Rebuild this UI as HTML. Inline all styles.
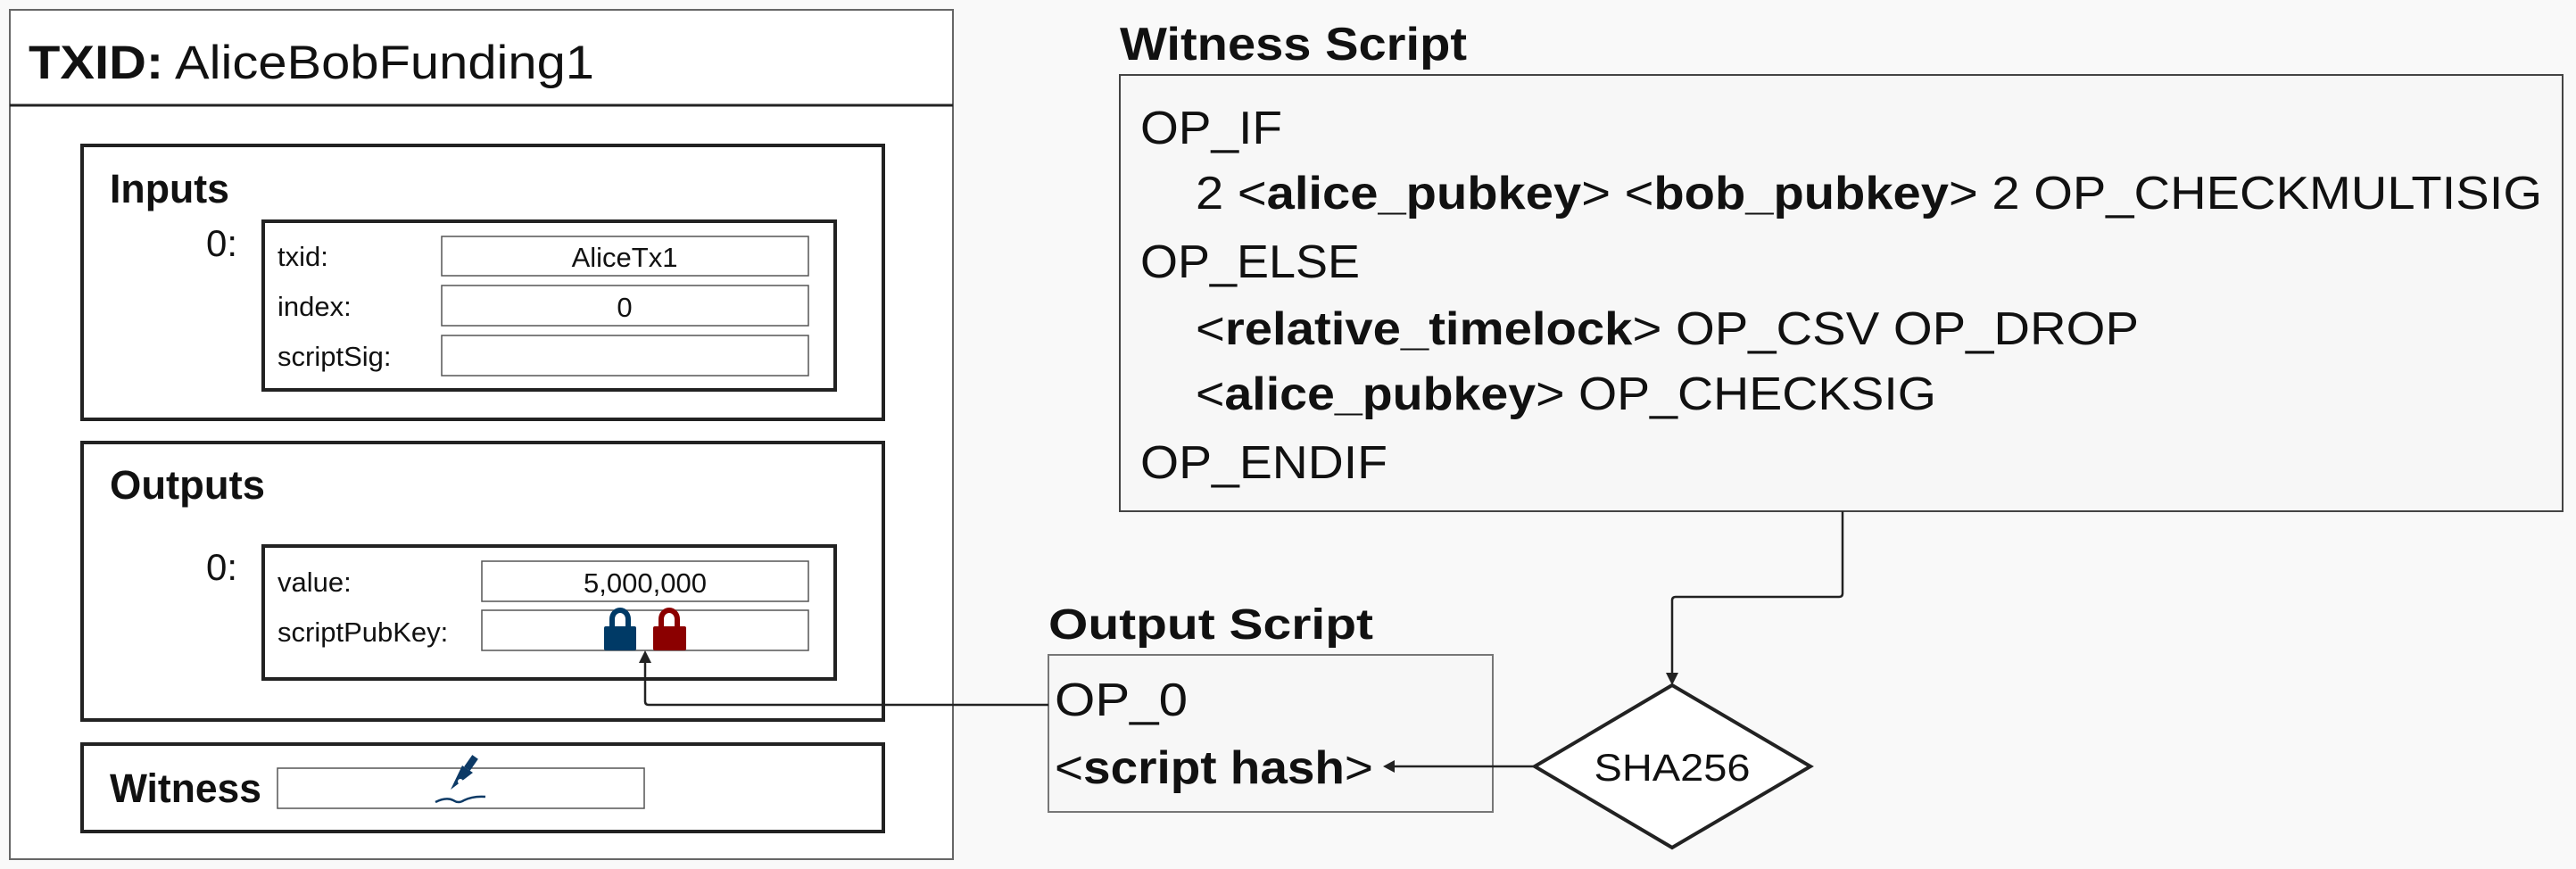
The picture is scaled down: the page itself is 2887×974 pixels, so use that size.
<!DOCTYPE html>
<html><head><meta charset="utf-8">
<style>
html,body{margin:0;padding:0;background:#f9f9f9;}
svg{display:block;}
text{font-family:"Liberation Sans",sans-serif;fill:#111;}
.b{font-weight:bold;}
</style></head>
<body>
<svg width="2887" height="974" viewBox="0 0 2887 974" xmlns="http://www.w3.org/2000/svg">
<rect x="0" y="0" width="2887" height="974" fill="#f9f9f9"/>
<!-- TXID box -->
<rect x="11" y="11" width="1057" height="952" fill="#fff" stroke="#666" stroke-width="2"/>
<line x1="11" y1="118" x2="1068" y2="118" stroke="#222" stroke-width="3"/>
<text x="32" y="88" font-size="53" textLength="634" lengthAdjust="spacingAndGlyphs"><tspan class="b">TXID:</tspan> AliceBobFunding1</text>

<!-- Inputs -->
<rect x="92" y="163" width="898" height="307" fill="#fff" stroke="#222" stroke-width="4"/>
<text x="123" y="227" font-size="45" class="b" textLength="134" lengthAdjust="spacingAndGlyphs">Inputs</text>
<text x="231" y="287" font-size="42">0:</text>
<rect x="295" y="248" width="641" height="189" fill="#fff" stroke="#222" stroke-width="4"/>
<text x="311" y="298" font-size="31">txid:</text>
<text x="311" y="354" font-size="31">index:</text>
<text x="311" y="410" font-size="31">scriptSig:</text>
<rect x="495" y="265" width="411" height="44" fill="#fff" stroke="#555" stroke-width="1.5"/>
<rect x="495" y="320" width="411" height="45" fill="#fff" stroke="#555" stroke-width="1.5"/>
<rect x="495" y="376" width="411" height="45" fill="#fff" stroke="#555" stroke-width="1.5"/>
<text x="700" y="299" font-size="31" text-anchor="middle">AliceTx1</text>
<text x="700" y="355" font-size="31" text-anchor="middle">0</text>

<!-- Outputs -->
<rect x="92" y="496" width="898" height="311" fill="#fff" stroke="#222" stroke-width="4"/>
<text x="123" y="559" font-size="45" class="b" textLength="174" lengthAdjust="spacingAndGlyphs">Outputs</text>
<text x="231" y="650" font-size="42">0:</text>
<rect x="295" y="612" width="641" height="149" fill="#fff" stroke="#222" stroke-width="4"/>
<text x="311" y="663" font-size="31">value:</text>
<text x="311" y="719" font-size="31">scriptPubKey:</text>
<rect x="540" y="629" width="366" height="45" fill="#fff" stroke="#555" stroke-width="1.5"/>
<rect x="540" y="684" width="366" height="45" fill="#fff" stroke="#555" stroke-width="1.5"/>
<text x="723" y="664" font-size="31" text-anchor="middle">5,000,000</text>
<!-- locks -->
<path d="M686 704 V694 a9 10 0 0 1 18 0 V704" fill="none" stroke="#003a66" stroke-width="6"/>
<rect x="677" y="702" width="36" height="27" rx="2" fill="#003a66"/>
<path d="M741 704 V694 a9 10 0 0 1 18 0 V704" fill="none" stroke="#8b0000" stroke-width="6"/>
<rect x="732" y="702" width="37" height="27" rx="2" fill="#8b0000"/>

<!-- Witness -->
<rect x="92" y="834" width="898" height="98" fill="#fff" stroke="#222" stroke-width="4"/>
<text x="123" y="899" font-size="45" class="b" textLength="170" lengthAdjust="spacingAndGlyphs">Witness</text>
<rect x="311" y="861" width="411" height="45" fill="#fff" stroke="#555" stroke-width="1.5"/>
<!-- pen icon -->
<g fill="#0d3a66">
<path d="M505 885 L518 858 L530 866 Z"/>
<rect x="524" y="847" width="8" height="16" transform="rotate(35 528 855)"/>
<path d="M488 899 q12 -6 20 -2 q6 4 12 0 q10 -5 24 -4" fill="none" stroke="#0d3a66" stroke-width="2.5"/>
</g>
<circle cx="516" cy="876" r="3" fill="#fff"/>

<!-- Witness Script -->
<text x="1255" y="67" font-size="52" class="b" textLength="389" lengthAdjust="spacingAndGlyphs">Witness Script</text>
<rect x="1255" y="84" width="1617" height="489" fill="#f7f7f7" stroke="#444" stroke-width="2"/>
<text x="1278" y="161" font-size="52" textLength="159" lengthAdjust="spacingAndGlyphs">OP_IF</text>
<text x="1340" y="234" font-size="52" textLength="1509" lengthAdjust="spacingAndGlyphs">2 &lt;<tspan class="b">alice_pubkey</tspan>&gt; &lt;<tspan class="b">bob_pubkey</tspan>&gt; 2 OP_CHECKMULTISIG</text>
<text x="1278" y="311" font-size="52" textLength="246" lengthAdjust="spacingAndGlyphs">OP_ELSE</text>
<text x="1340" y="386" font-size="52" textLength="1057" lengthAdjust="spacingAndGlyphs">&lt;<tspan class="b">relative_timelock</tspan>&gt; OP_CSV OP_DROP</text>
<text x="1340" y="459" font-size="52" textLength="830" lengthAdjust="spacingAndGlyphs">&lt;<tspan class="b">alice_pubkey</tspan>&gt; OP_CHECKSIG</text>
<text x="1278" y="536" font-size="52" textLength="277" lengthAdjust="spacingAndGlyphs">OP_ENDIF</text>

<!-- Output Script -->
<text x="1175" y="716" font-size="48" class="b" textLength="364" lengthAdjust="spacingAndGlyphs">Output Script</text>
<rect x="1175" y="734" width="498" height="176" fill="#f7f7f7" stroke="#777" stroke-width="2"/>
<text x="1182" y="802" font-size="52" textLength="149" lengthAdjust="spacingAndGlyphs">OP_0</text>
<text x="1182" y="878" font-size="52" textLength="357" lengthAdjust="spacingAndGlyphs">&lt;<tspan class="b">script hash</tspan>&gt;</text>

<!-- Diamond -->
<polygon points="1874,768 2029,859 1874,950 1720,859" fill="#fff" stroke="#222" stroke-width="4"/>
<text x="1874" y="875" font-size="43" text-anchor="middle" textLength="175" lengthAdjust="spacingAndGlyphs">SHA256</text>

<!-- connectors -->
<path d="M2065 573 V665 q0 4 -4 4 H1878 q-4 0 -4 4 V756" fill="none" stroke="#222" stroke-width="2.5"/>
<polygon points="1867,754 1881,754 1874,768" fill="#222"/>
<path d="M1720 859 H1562" fill="none" stroke="#222" stroke-width="2.5"/>
<polygon points="1550,859 1563,852 1563,866" fill="#222"/>
<path d="M1175 790 H727 q-4 0 -4 -4 V742" fill="none" stroke="#222" stroke-width="2.5"/>
<polygon points="723,729 716,743 730,743" fill="#222"/>
</svg>
</body></html>
